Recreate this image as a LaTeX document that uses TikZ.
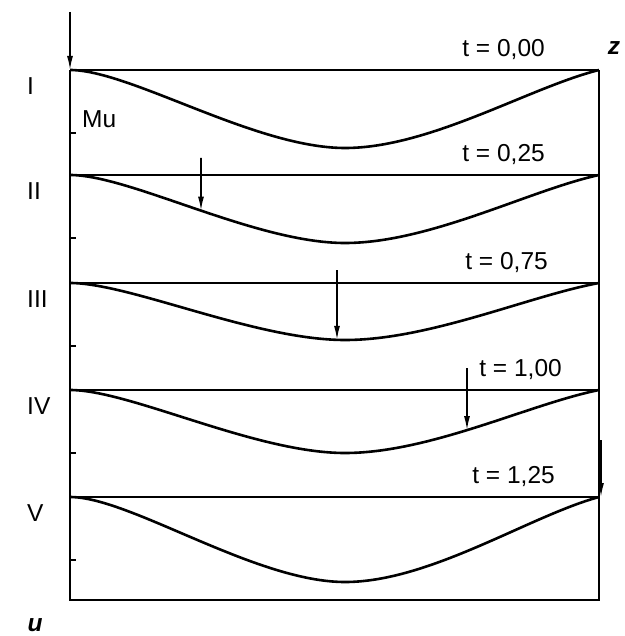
\documentclass[tikz,border=0pt]{standalone}
\usepackage{fontspec}
\setmainfont{Liberation Sans}
\usetikzlibrary{arrows.meta,intersections}

\begin{document}
\begin{tikzpicture}[
  x=1pt, y=-1pt,
  font=\fontsize{24.5}{28}\selectfont,
  frame/.style={line width=2.2pt},
  base/.style={line width=2pt},
  defl/.style={line width=2.6pt},
  tick/.style={line width=1.4pt},
  load/.style={-{Latex[length=14pt,width=6pt]}, line width=1.6pt},
  lab/.style={inner sep=0pt}
]
\useasboundingbox (0,0) rectangle (624,636);
\coordinate (top) at (70,12);
\coordinate (o) at (70,600);
\coordinate (end) at (599,600);
\coordinate (zr) at (599,70);
\draw[load] (top) -- (70,70);
\draw[frame] (70,70) -- (o) -- (end) -- (zr);
\foreach \k/\y/\d/\t/\tx/\r in {1/70/78/{0,00}/545/I, 2/175/68/{0,25}/545/II,
    3/283/57/{0,75}/548/III, 4/390/63/{1,00}/562/IV, 5/497/85/{1,25}/555/V}{
  \draw[base] (70,\y) -- (599,\y);
  \draw[defl, name path global=beam\k] (70,\y) .. controls (130,\y) and (255,\y+\d)
    .. (345,\y+\d) .. controls (430,\y+\d) and (530,\y+0.22*\d) .. (599,\y);
  \draw[tick] (70,\y+63) -- ++(6,0);
  \node[lab, anchor=west] (r\k) at (27,\y+16) {\r};
  \node[lab, anchor=east] (t\k) at (\tx,\y-20) {t = \t};
}
\foreach \k/\x/\s in {2/201/158, 3/337/270, 4/467/368}{
  \path[name path=\k vert] (\x,\s) -- (\x,\s+120);
  \path[name intersections={of=\k vert and beam\k, by=tip\k}];
  \draw[load] (\x,\s) -- (tip\k);
}
\draw[load] (601,440) -- (601,497);
\node[lab, anchor=west] (mu) at (82,119) {Mu};
\node[lab] (zlab) at (614,48) {\textbf{\textit{z}}};
\node[lab] (ulab) at (35,625) {\textbf{\textit{u}}};
\end{tikzpicture}
\end{document}
